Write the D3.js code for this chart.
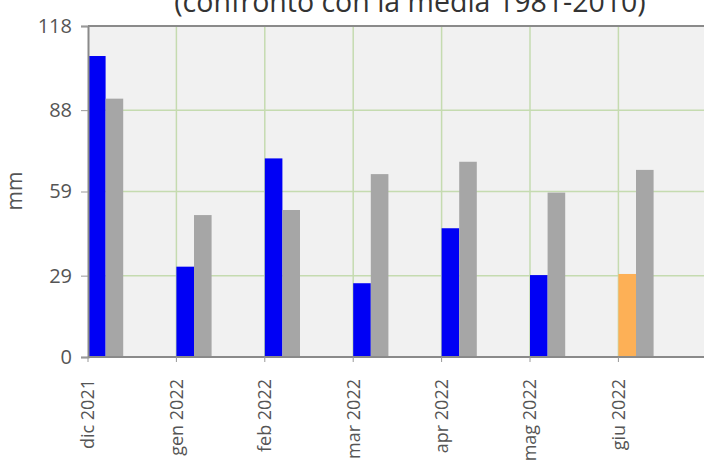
<!DOCTYPE html>
<html>
<head>
<meta charset="utf-8">
<script src="https://cdn.jsdelivr.net/npm/d3@7"></script>
<style>
  body { margin: 0; background: #fff; overflow: hidden; }
  svg { display: block; font-family: 'Open Sans', sans-serif; }
</style>
</head>
<body>
<div id="chart"></div>
<script>
// Precipitazioni mensili (mm) confrontate con la media climatica
var months = ['dic 2021', 'gen 2022', 'feb 2022', 'mar 2022', 'apr 2022', 'mag 2022', 'giu 2022']
var observed = [107.3, 32.2, 70.8, 26.3, 45.9, 29.2, 29.6]
var climate = [92.1, 50.6, 52.4, 65.2, 69.6, 58.6, 66.7]
var partial = [false, false, false, false, false, false, true]
var yTicks = [0, 29, 59, 88, 118]

var width = 704
var height = 461
var margin = { top: 26, left: 88, bottom: 104 }
var step = 88.4

var svg = d3.select('#chart')
  .append('svg')
  .attr('width', width)
  .attr('height', height)

var xScale = d3.scaleBand()
  .domain(months)
  .range([margin.left, margin.left + step * months.length])
  .padding(0)

var yScale = d3.scaleLinear()
  .domain([0, 118])
  .range([height - margin.bottom, margin.top])

var barW = 17.6

// title (cut by the top of the picture)
svg.append('text')
  .attr('x', 410)
  .attr('y', 12)
  .attr('text-anchor', 'middle')
  .attr('font-size', 28.5)
  .attr('fill', '#333')
  .text('(confronto con la media 1981-2010)')

// plot background
svg.append('rect')
  .attr('x', margin.left)
  .attr('y', margin.top)
  .attr('width', width - margin.left)
  .attr('height', yScale(0) - margin.top)
  .attr('fill', '#f1f1f1')

// grid
svg.append('g')
  .selectAll('line')
  .data(yTicks.slice(1, -1))
  .enter()
  .append('line')
  .attr('x1', margin.left)
  .attr('x2', width)
  .attr('y1', (d) => yScale(d))
  .attr('y2', (d) => yScale(d))
  .attr('stroke', '#c5dbb0')
  .attr('stroke-width', 1.5)

svg.append('g')
  .selectAll('line')
  .data(months.slice(1))
  .enter()
  .append('line')
  .attr('x1', (d) => xScale(d))
  .attr('x2', (d) => xScale(d))
  .attr('y1', margin.top)
  .attr('y2', yScale(0))
  .attr('stroke', '#c5dbb0')
  .attr('stroke-width', 1.5)

// bars
svg.append('g')
  .selectAll('rect')
  .data(months)
  .enter()
  .append('rect')
  .attr('x', (d) => xScale(d))
  .attr('width', barW)
  .attr('y', (d, i) => yScale(observed[i]))
  .attr('height', (d, i) => yScale(0) - yScale(observed[i]))
  .attr('fill', (d, i) => partial[i] ? '#fdb056' : '#0000f5')

svg.append('g')
  .selectAll('rect')
  .data(months)
  .enter()
  .append('rect')
  .attr('x', (d) => xScale(d) + barW)
  .attr('width', barW)
  .attr('y', (d, i) => yScale(climate[i]))
  .attr('height', (d, i) => yScale(0) - yScale(climate[i]))
  .attr('fill', '#a6a6a6')

// frame lines
svg.append('line')
  .attr('x1', margin.left).attr('x2', width)
  .attr('y1', margin.top).attr('y2', margin.top)
  .attr('stroke', '#8a8a8a').attr('stroke-width', 2)

// y axis
var yAxis = d3.axisLeft(yScale)
  .tickValues(yTicks)
  .tickSize(7)
  .tickPadding(9)

var yG = svg.append('g')
  .attr('transform', `translate(${margin.left}, 0)`)
  .call(yAxis)
yG.select('.domain').attr('stroke', '#8a8a8a').attr('stroke-width', 2)
yG.selectAll('.tick line').attr('stroke', '#999')
yG.selectAll('.tick text')
  .attr('font-size', 20)
  .attr('fill', '#555')
  .attr('font-family', 'Open Sans, sans-serif')

// x axis
var xAxis = d3.axisBottom(xScale)
  .tickSize(5)
  .tickPadding(6)
  .tickSizeOuter(0)

var xG = svg.append('g')
  .attr('transform', `translate(${-step / 2}, ${yScale(0)})`)
  .call(xAxis)
xG.select('.domain')
  .attr('d', `M${margin.left + step / 2},0H${width + step / 2}`)
  .attr('stroke', '#8a8a8a').attr('stroke-width', 2)
xG.selectAll('.tick line').attr('stroke', '#999')
xG.selectAll('.tick text')
  .attr('font-size', 18)
  .attr('fill', '#555')
  .attr('font-family', 'Open Sans, sans-serif')
  .attr('text-anchor', 'end')
  .attr('transform', 'rotate(-90)')
  .attr('x', -22)
  .attr('y', 0)
  .attr('dy', '0.35em')

// y label
svg.append('text')
  .attr('transform', 'translate(22, 191) rotate(-90)')
  .attr('text-anchor', 'middle')
  .attr('font-size', 21)
  .attr('fill', '#555')
  .text('mm')
</script>
</body>
</html>
